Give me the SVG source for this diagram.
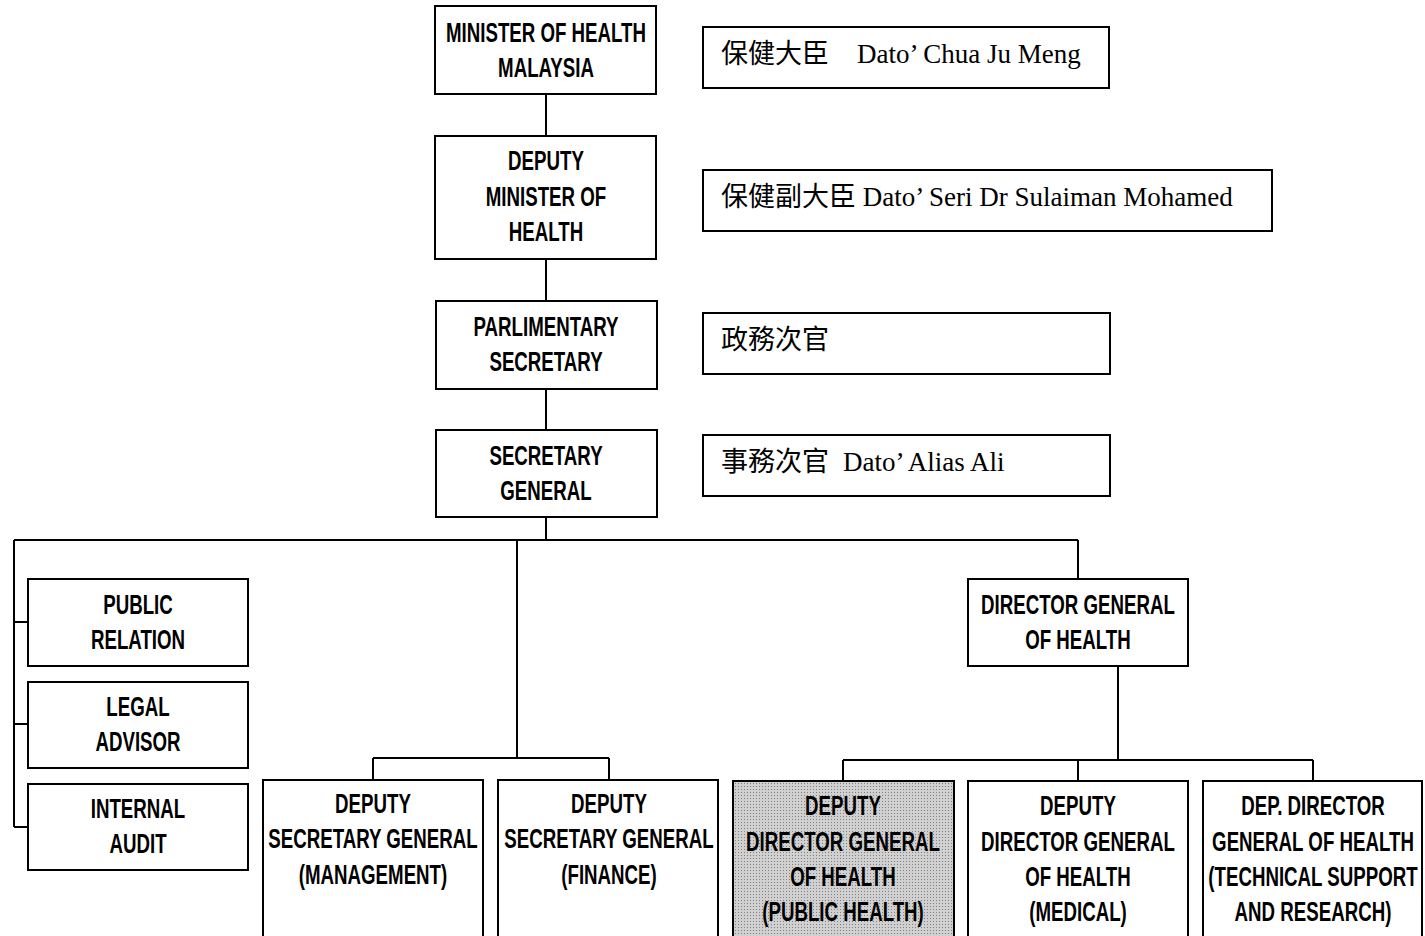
<svg xmlns="http://www.w3.org/2000/svg" width="1425" height="936" viewBox="0 0 1425 936">
<style>
.b{fill:#fff;stroke:#000;stroke-width:2}
.g{fill:url(#dots);stroke:#000;stroke-width:2}
.t{font-family:"Liberation Sans",Arial,sans-serif;font-weight:bold;font-size:27.5px;text-anchor:middle;fill:#000}
.s{font-family:"Liberation Serif","Noto Sans CJK SC",serif;font-size:27px;fill:#000}
.c{fill:none;stroke:#000;stroke-width:2}
</style>
<defs>
<pattern id="dots" width="3" height="3" patternUnits="userSpaceOnUse">
<rect width="3" height="3" fill="#d0d0d0"/>
<rect width="1" height="1" fill="#808080"/>
</pattern>
</defs>
<g id="connectors">
<path class="c" d="M546 94V136M546 259V301M546 389V430M546 517V540M14 540H1078M14 540V827M14 622H28M14 724H28M14 827H28M517 540V758M373 758H609M373 758V780M609 758V780M1078 540V579M1118 666V760M843 760H1313M843 760V781M1078 760V781M1313 760V781"/>
</g>
<g id="minister"><rect class="b" x="435" y="6" width="221" height="88"/><g transform="matrix(0.68 0 0 1 546 0)"><text class="t" x="0" y="42">MINISTER OF HEALTH</text><text class="t" x="0" y="77">MALAYSIA</text></g></g>
<g id="deputy-minister"><rect class="b" x="435" y="136" width="221" height="123"/><g transform="matrix(0.68 0 0 1 546 0)"><text class="t" x="0" y="170">DEPUTY</text><text class="t" x="0" y="206">MINISTER OF</text><text class="t" x="0" y="241">HEALTH</text></g></g>
<g id="parl-sec"><rect class="b" x="436" y="301" width="221" height="88"/><g transform="matrix(0.68 0 0 1 546 0)"><text class="t" x="0" y="336">PARLIMENTARY</text><text class="t" x="0" y="371">SECRETARY</text></g></g>
<g id="sec-gen"><rect class="b" x="436" y="430" width="221" height="87"/><g transform="matrix(0.68 0 0 1 546 0)"><text class="t" x="0" y="465">SECRETARY</text><text class="t" x="0" y="500">GENERAL</text></g></g>
<g id="label-minister"><rect class="b" x="703" y="27" width="406" height="61"/><text class="s" x="721" y="63">保健大臣<tspan x="857">Dato’ Chua Ju Meng</tspan></text></g>
<g id="label-deputy"><rect class="b" x="703" y="170" width="569" height="61"/><text class="s" x="721" y="206">保健副大臣 Dato’ Seri Dr Sulaiman Mohamed</text></g>
<g id="label-parl"><rect class="b" x="703" y="313" width="407" height="61"/><text class="s" x="721" y="349">政務次官</text></g>
<g id="label-sec"><rect class="b" x="703" y="435" width="407" height="61"/><text class="s" x="721" y="471">事務次官<tspan x="843">Dato’ Alias Ali</tspan></text></g>
<g id="public-relation"><rect class="b" x="28" y="579" width="220" height="87"/><g transform="matrix(0.68 0 0 1 138 0)"><text class="t" x="0" y="614">PUBLIC</text><text class="t" x="0" y="649">RELATION</text></g></g>
<g id="legal-advisor"><rect class="b" x="28" y="682" width="220" height="86"/><g transform="matrix(0.68 0 0 1 138 0)"><text class="t" x="0" y="716">LEGAL</text><text class="t" x="0" y="751">ADVISOR</text></g></g>
<g id="internal-audit"><rect class="b" x="28" y="784" width="220" height="86"/><g transform="matrix(0.68 0 0 1 138 0)"><text class="t" x="0" y="818">INTERNAL</text><text class="t" x="0" y="853">AUDIT</text></g></g>
<g id="dg-health"><rect class="b" x="968" y="579" width="220" height="87"/><g transform="matrix(0.68 0 0 1 1078 0)"><text class="t" x="0" y="614">DIRECTOR GENERAL</text><text class="t" x="0" y="649">OF HEALTH</text></g></g>
<g id="dsg-management"><rect class="b" x="263" y="780" width="220" height="160"/><g transform="matrix(0.68 0 0 1 373 0)"><text class="t" x="0" y="813">DEPUTY</text><text class="t" x="0" y="848">SECRETARY GENERAL</text><text class="t" x="0" y="884">(MANAGEMENT)</text></g></g>
<g id="dsg-finance"><rect class="b" x="498" y="780" width="220" height="160"/><g transform="matrix(0.68 0 0 1 609 0)"><text class="t" x="0" y="813">DEPUTY</text><text class="t" x="0" y="848">SECRETARY GENERAL</text><text class="t" x="0" y="884">(FINANCE)</text></g></g>
<g id="ddg-public-health"><rect class="g" x="733" y="781" width="221" height="160"/><g transform="matrix(0.68 0 0 1 843 0)"><text class="t" x="0" y="815">DEPUTY</text><text class="t" x="0" y="851">DIRECTOR GENERAL</text><text class="t" x="0" y="886">OF HEALTH</text><text class="t" x="0" y="921">(PUBLIC HEALTH)</text></g></g>
<g id="ddg-medical"><rect class="b" x="968" y="781" width="220" height="160"/><g transform="matrix(0.68 0 0 1 1078 0)"><text class="t" x="0" y="815">DEPUTY</text><text class="t" x="0" y="851">DIRECTOR GENERAL</text><text class="t" x="0" y="886">OF HEALTH</text><text class="t" x="0" y="921">(MEDICAL)</text></g></g>
<g id="ddg-technical"><rect class="b" x="1203" y="781" width="219" height="160"/><g transform="matrix(0.68 0 0 1 1313 0)"><text class="t" x="0" y="815">DEP. DIRECTOR</text><text class="t" x="0" y="851">GENERAL OF HEALTH</text><text class="t" x="0" y="886">(TECHNICAL SUPPORT</text><text class="t" x="0" y="921">AND RESEARCH)</text></g></g>
</svg>
